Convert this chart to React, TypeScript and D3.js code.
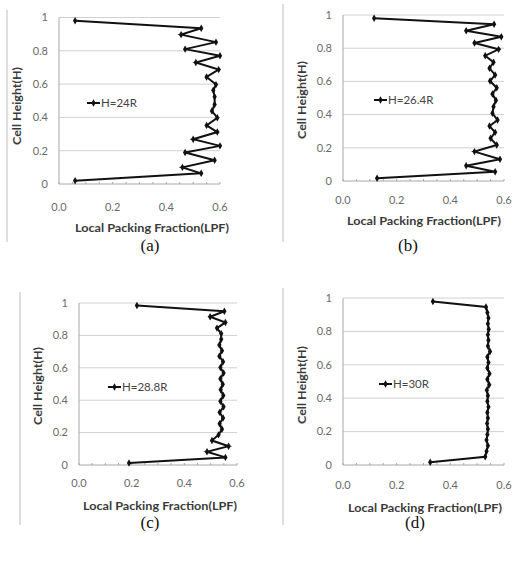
import React from "react";
import * as d3 from "d3";

// ---- data ----
const hA = [0.020, 0.064, 0.100, 0.143, 0.189, 0.229, 0.269, 0.312, 0.352, 0.398, 0.438, 0.478, 0.524, 0.563, 0.597, 0.643, 0.687, 0.730, 0.770, 0.810, 0.852, 0.897, 0.935, 0.981];
const lpfA = [0.06, 0.53, 0.46, 0.58, 0.47, 0.60, 0.50, 0.59, 0.55, 0.59, 0.57, 0.58, 0.58, 0.575, 0.585, 0.55, 0.595, 0.51, 0.60, 0.47, 0.585, 0.455, 0.53, 0.06];

const hB = [0.016, 0.056, 0.092, 0.131, 0.177, 0.217, 0.257, 0.293, 0.331, 0.367, 0.408, 0.448, 0.486, 0.524, 0.562, 0.602, 0.639, 0.679, 0.715, 0.755, 0.793, 0.831, 0.869, 0.905, 0.944, 0.980];
const lpfB = [0.127, 0.567, 0.459, 0.585, 0.49, 0.573, 0.55, 0.567, 0.546, 0.576, 0.557, 0.561, 0.57, 0.557, 0.573, 0.548, 0.567, 0.546, 0.561, 0.53, 0.58, 0.49, 0.59, 0.459, 0.563, 0.116];

const hC = [0.012, 0.047, 0.082, 0.116, 0.151, 0.186, 0.221, 0.255, 0.290, 0.325, 0.359, 0.394, 0.429, 0.464, 0.498, 0.533, 0.568, 0.602, 0.637, 0.672, 0.706, 0.741, 0.776, 0.811, 0.845, 0.880, 0.915, 0.949, 0.984];
const lpfC = [0.19, 0.556, 0.486, 0.568, 0.505, 0.53, 0.543, 0.534, 0.547, 0.534, 0.549, 0.537, 0.548, 0.538, 0.546, 0.537, 0.549, 0.537, 0.547, 0.533, 0.543, 0.533, 0.54, 0.54, 0.524, 0.556, 0.498, 0.552, 0.22];

const hD = [0.016, 0.049, 0.082, 0.116, 0.149, 0.182, 0.215, 0.248, 0.282, 0.315, 0.348, 0.381, 0.415, 0.448, 0.481, 0.514, 0.547, 0.581, 0.614, 0.647, 0.680, 0.713, 0.747, 0.780, 0.813, 0.846, 0.880, 0.913, 0.946, 0.979];
const lpfD = [0.325, 0.53, 0.535, 0.54, 0.535, 0.538, 0.54, 0.537, 0.54, 0.538, 0.542, 0.538, 0.54, 0.536, 0.545, 0.538, 0.546, 0.538, 0.542, 0.538, 0.548, 0.54, 0.542, 0.54, 0.543, 0.54, 0.542, 0.538, 0.533, 0.335];

const yTicks = [0, 0.2, 0.4, 0.6, 0.8, 1];
const yTickLabels = ["0", "0.2", "0.4", "0.6", "0.8", "1"];
const xTicks = [0, 0.2, 0.4, 0.6];
const xTickLabels = ["0.0", "0.2", "0.4", "0.6"];
const xMinorTicks = [0, 0.05, 0.1, 0.15, 0.2, 0.25, 0.3, 0.35, 0.4, 0.45, 0.5, 0.55, 0.6];
const legendLabels = ["H=24R", "H=26.4R", "H=28.8R", "H=30R"];
const captions = ["(a)", "(b)", "(c)", "(d)"];
const xTitle = "Local Packing Fraction(LPF)";
const yTitle = "Cell Height(H)";

const series = [
  { h: hA, lpf: lpfA },
  { h: hB, lpf: lpfB },
  { h: hC, lpf: lpfC },
  { h: hD, lpf: lpfD },
];

// ---- layout ----
const layouts = [
  { x0: 59, x1: 220, yb: 184, yt: 17.5, frameX: 7, frameY0: 10, frameY1: 242, yTitleX: 17, yTitleY: 106, xLabY: 211, xTitleY: 232, xTitleX: 152, legX: 87, legY: 103, capX: 150, capY: 251 },
  { x0: 343, x1: 504, yb: 181, yt: 15, frameX: 283, frameY0: 4, frameY1: 242, yTitleX: 302, yTitleY: 100, xLabY: 204, xTitleY: 225, xTitleX: 424, legX: 374, legY: 100, capX: 408, capY: 251 },
  { x0: 79, x1: 237, yb: 465, yt: 303, frameX: 20, frameY0: 292, frameY1: 525, yTitleX: 38, yTitleY: 386, xLabY: 487, xTitleY: 510, xTitleX: 160, legX: 108, legY: 387, capX: 150, capY: 528 },
  { x0: 343, x1: 504, yb: 465, yt: 298, frameX: 283, frameY0: 288, frameY1: 525, yTitleX: 302, yTitleY: 385, xLabY: 489, xTitleY: 512, xTitleX: 425, legX: 379, legY: 384, capX: 415, capY: 528 },
];

const tickFont = "Lato, 'Open Sans', sans-serif";

function Panel({ idx }: { idx: number }) {
  const L = layouts[idx];
  const s = series[idx];
  const x = d3.scaleLinear().domain([0, 0.6]).range([L.x0, L.x1]);
  const y = d3.scaleLinear().domain([0, 1]).range([L.yb, L.yt]);
  const pts = s.h.map((h, i) => [s.lpf[i], h] as [number, number]);
  const line = d3.line<[number, number]>().x((d) => x(d[0])).y((d) => y(d[1]));
  const sym = d3.symbol().type(d3.symbolDiamond).size(16);
  return (
    <g>
      <line x1={L.frameX} x2={L.frameX} y1={L.frameY0} y2={L.frameY1} stroke="#bdbdbd" strokeWidth={1} />
      {yTicks.map((t, i) => (
        <g key={i}>
          {t > 0 && <line x1={L.x0} x2={L.x1} y1={y(t)} y2={y(t)} stroke="#d0d0d0" strokeWidth={1} />}
          <text x={L.x0 - 11} y={y(t)} dy="0.35em" textAnchor="end" fontFamily={tickFont} fontSize={11} fill="#6a6a6a">
            {yTickLabels[i]}
          </text>
        </g>
      ))}
      <line x1={L.x0} x2={L.x0} y1={L.yt} y2={L.yb} stroke="#a8a8a8" strokeWidth={1} />
      <line x1={L.x0} x2={L.x1} y1={L.yb} y2={L.yb} stroke="#a8a8a8" strokeWidth={1} />
      {xMinorTicks.map((t, i) => (
        <line key={i} x1={x(t)} x2={x(t)} y1={L.yb} y2={L.yb - 2} stroke="#a8a8a8" strokeWidth={1} />
      ))}
      {xTicks.map((t, i) => (
        <text key={i} x={x(t)} y={L.xLabY} textAnchor="middle" fontFamily={tickFont} fontSize={11} fill="#6a6a6a">
          {xTickLabels[i]}
        </text>
      ))}
      <text x={L.xTitleX} y={L.xTitleY} textAnchor="middle" fontFamily={tickFont} fontWeight="bold" fontSize={11.5} fill="#3a3a3a" textLength={154} lengthAdjust="spacingAndGlyphs">
        {xTitle}
      </text>
      <text transform={`translate(${L.yTitleX},${L.yTitleY}) rotate(-90)`} textAnchor="middle" dy="0.35em" fontFamily={tickFont} fontWeight="bold" fontSize={11.5} fill="#3a3a3a" textLength={78} lengthAdjust="spacingAndGlyphs">
        {yTitle}
      </text>
      <path d={line(pts) || ""} fill="none" stroke="#111" strokeWidth={2} strokeLinejoin="miter" />
      {pts.map((p, i) => (
        <path key={i} transform={`translate(${x(p[0])},${y(p[1])})`} d={sym() || ""} fill="#111" />
      ))}
      <line x1={L.legX} x2={L.legX + 13} y1={L.legY} y2={L.legY} stroke="#111" strokeWidth={2} />
      <path transform={`translate(${L.legX + 6.5},${L.legY})`} d={sym() || ""} fill="#111" />
      <text x={L.legX + 14} y={L.legY} dy="0.35em" fontFamily={tickFont} fontSize={11.5} fill="#444">
        {legendLabels[idx]}
      </text>
      <text x={L.capX} y={L.capY} textAnchor="middle" fontFamily="'Liberation Serif', 'Times New Roman', serif" fontSize={17} fill="#111">
        {captions[idx]}
      </text>
    </g>
  );
}

export default function App() {
  return (
    <svg width={512} height={567} style={{ position: "absolute", left: 0, top: 0, background: "#fff" }}>
      {[0, 1, 2, 3].map((i) => (
        <Panel key={i} idx={i} />
      ))}
    </svg>
  );
}
